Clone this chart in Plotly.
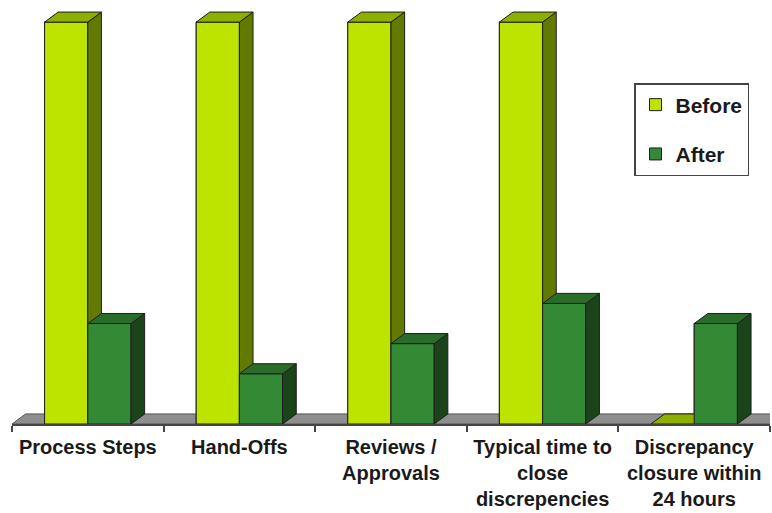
import plotly.graph_objects as go

categories = ["Process Steps", "Hand-Offs", "Reviews /<br>Approvals",
              "Typical time to<br>close<br>discrepencies",
              "Discrepancy<br>closure within<br>24 hours"]
before_vals = [100, 100, 100, 100, 0]
after_vals = [25, 12.5, 20, 30, 25]
series_names = ["Before", "After"]

# styling
front_cols = ["#BDE300", "#348A34"]
top_cols = ["#8DB000", "#2A6C2A"]
side_cols = ["#627A00", "#1B441B"]
outline = "#1e1e1e"
BW = 0.285          # bar width in category units
DX, DY = 0.09, 2.5  # pseudo-3D depth offsets (x in categories, y in value units)

xs = list(range(len(categories)))
fig = go.Figure()

# legend / base bars
for s, (name, vals) in enumerate(zip(series_names, [before_vals, after_vals])):
    fig.add_trace(go.Bar(
        x=xs, y=vals, name=name, width=BW, offset=-BW if s == 0 else 0,
        marker=dict(color=front_cols[s], line=dict(color=outline, width=1)),
        legendgroup=name, hoverinfo="skip"))

def poly_trace(px, py, color):
    return go.Scatter(x=px, y=py, mode="lines", fill="toself", fillcolor=color,
                      line=dict(color=outline, width=1), showlegend=False,
                      hoverinfo="skip")

for s, vals in enumerate([before_vals, after_vals]):
    fx, fy, sx, sy, tx, ty = [], [], [], [], [], []
    for i, v in zip(xs, vals):
        x0 = i - BW if s == 0 else i
        x1 = x0 + BW
        if v > 0:
            fx += [x0, x1, x1, x0, x0, None]
            fy += [0, 0, v, v, 0, None]
            sx += [x1, x1 + DX, x1 + DX, x1, x1, None]
            sy += [0, DY, v + DY, v, 0, None]
        tx += [x0, x1, x1 + DX, x0 + DX, x0, None]
        ty += [v, v, v + DY, v + DY, v, None]
    fig.add_trace(poly_trace(fx, fy, front_cols[s]))
    fig.add_trace(poly_trace(sx, sy, side_cols[s]))
    fig.add_trace(poly_trace(tx, ty, top_cols[s]))

n = len(categories)
# floor
fig.add_shape(type="path", xref="x", yref="y", layer="below",
              path=f"M{-0.5},0 L{n - 0.5},0 L{n - 0.5 + DX},{DY} L{-0.5 + DX},{DY} Z",
              fillcolor="#8E8E8E", line=dict(color="#555555", width=1))

font_family = "Liberation Sans, Arial, sans-serif"
fig.update_layout(
    width=772, height=513,
    margin=dict(l=12, r=2, t=0, b=89),
    paper_bgcolor="white", plot_bgcolor="white",
    barmode="overlay",
    xaxis=dict(range=[-0.5, n - 0.5], tickmode="array", tickvals=xs,
               ticktext=categories, ticks="", showgrid=False, zeroline=False,
               showline=True, linecolor="#444444", linewidth=1.5,
               tickfont=dict(family=font_family, size=20, color="#1a1a1a", weight="bold"),
               ticklabelstandoff=4,
               minor=dict(tickmode="array", tickvals=[i - 0.5 for i in range(n + 1)],
                          ticks="outside", ticklen=6, tickcolor="#444444", tickwidth=1.5,
                          showgrid=False)),
    yaxis=dict(range=[0, 105.5], visible=False, showgrid=False, zeroline=False),
    legend=dict(x=(634 - 12) / 758, y=1 - 83 / 424, xanchor="left", yanchor="top",
                bordercolor="#444444", borderwidth=1.5, bgcolor="white",
                font=dict(family=font_family, size=21, color="#1a1a1a", weight="bold"),
                tracegroupgap=19, traceorder="grouped"),
    showlegend=True,
)

fig.write_html("out.html")
